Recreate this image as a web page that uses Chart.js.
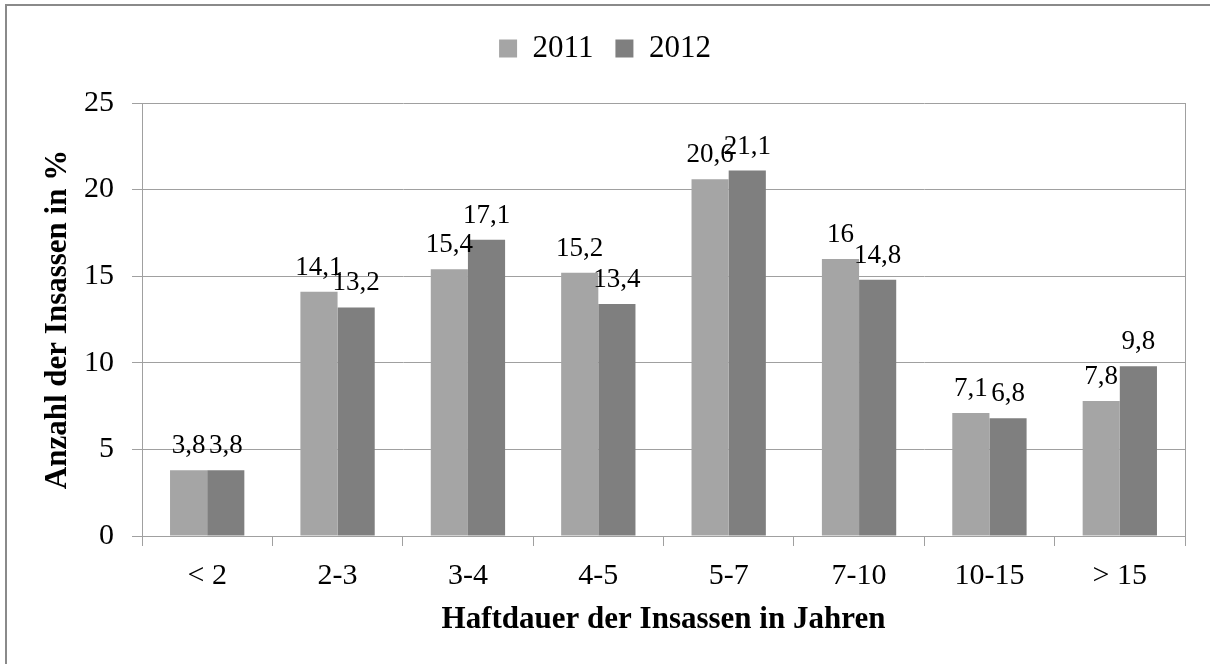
<!DOCTYPE html>
<html>
<head>
<meta charset="utf-8">
<script src="https://cdn.jsdelivr.net/npm/chart.js@4"></script>
<style>
  html, body { margin: 0; padding: 0; background: #fff; overflow: hidden; }
  #wrap { position: relative; width: 1210px; height: 664px; }
  #frame { position: absolute; left: 5px; top: 4px; width: 1400px; height: 900px;
           border-left: 2px solid #8a8a8a; border-top: 2px solid #8a8a8a; pointer-events: none; }
</style>
</head>
<body>
<div id="wrap">
  <canvas id="c" width="1210" height="664"></canvas>
  <div id="frame"></div>
</div>
<script>
const categories = ['< 2', '2-3', '3-4', '4-5', '5-7', '7-10', '10-15', '> 15'];
const values2011 = [3.8, 14.1, 15.4, 15.2, 20.6, 16, 7.1, 7.8];
const values2012 = [3.8, 13.2, 17.1, 13.4, 21.1, 14.8, 6.8, 9.8];
const seriesLabels = ['2011', '2012'];
const yTicks = [0, 5, 10, 15, 20, 25];
const xTitle = 'Haftdauer der Insassen in Jahren';
const yTitle = 'Anzahl der Insassen in %';

const FONT = 'Liberation Serif, Times New Roman, serif';
const GRID = '#a0a0a0';

const legendSpacer = {
  id: 'legendSpacer',
  beforeLayout(chart) {
    const lg = chart.legend;
    if (lg && !lg._patched) {
      const fit = lg.fit;
      lg.fit = function () { fit.call(this); this.height += 29; };
      lg._patched = true;
    }
  }
};

const valueLabels = {
  id: 'valueLabels',
  afterDatasetsDraw(chart) {
    const ctx = chart.ctx;
    ctx.save();
    ctx.font = '27px ' + FONT;
    ctx.fillStyle = '#000';
    ctx.textAlign = 'center';
    ctx.textBaseline = 'alphabetic';
    chart.data.datasets.forEach((ds, di) => {
      const meta = chart.getDatasetMeta(di);
      meta.data.forEach((el, i) => {
        const txt = String(ds.data[i]).replace('.', ',');
        ctx.fillText(txt, el.x, el.y - 17);
      });
    });
    ctx.restore();
  }
};

new Chart(document.getElementById('c'), {
  type: 'bar',
  data: {
    labels: categories,
    datasets: [
      { label: seriesLabels[0], data: values2011, backgroundColor: '#a5a5a5', borderWidth: 0 },
      { label: seriesLabels[1], data: values2012, backgroundColor: '#7f7f7f', borderWidth: 0 }
    ]
  },
  options: {
    responsive: false,
    animation: false,
    devicePixelRatio: 1,
    layout: { padding: { top: 11, left: 0, right: 0, bottom: 0 } },
    datasets: { bar: { categoryPercentage: 0.57, barPercentage: 1.0 } },
    plugins: {
      legend: {
        position: 'top',
        align: 'center',
        labels: {
          boxWidth: 18, boxHeight: 18, padding: 22, color: '#000',
          font: { family: FONT, size: 31 }
        }
      },
      tooltip: { enabled: false }
    },
    scales: {
      x: {
        grid: { offset: true, drawOnChartArea: false, drawTicks: true, tickLength: 10, color: GRID, lineWidth: 1 },
        border: { color: GRID, width: 1 },
        ticks: { color: '#000', padding: 12, font: { family: FONT, size: 30 }, maxRotation: 0, autoSkip: false },
        title: { display: true, text: xTitle, color: '#000', font: { family: FONT, size: 31, weight: 'bold' }, padding: { top: 0, bottom: 25 } },
        afterFit(s) { s.height = 128; }
      },
      y: {
        min: 0, max: 25,
        afterBuildTicks(s) { s.ticks = yTicks.map(v => ({ value: v })); },
        grid: { color: GRID, lineWidth: 1, drawTicks: true, tickLength: 10 },
        border: { color: GRID, width: 1 },
        ticks: { color: '#000', padding: 18, font: { family: FONT, size: 30 } },
        title: { display: true, text: yTitle, color: '#000', font: { family: FONT, size: 31, weight: 'bold' }, padding: { top: 39, bottom: 0 } },
        afterFit(s) { s.width = 142; }
      },
      y2: {
        position: 'right', min: 0, max: 25,
        grid: { drawOnChartArea: false, drawTicks: false },
        border: { color: GRID, width: 1 },
        ticks: { display: false },
        afterFit(s) { s.width = 25; }
      }
    }
  },
  plugins: [legendSpacer, valueLabels]
});
</script>
</body>
</html>
